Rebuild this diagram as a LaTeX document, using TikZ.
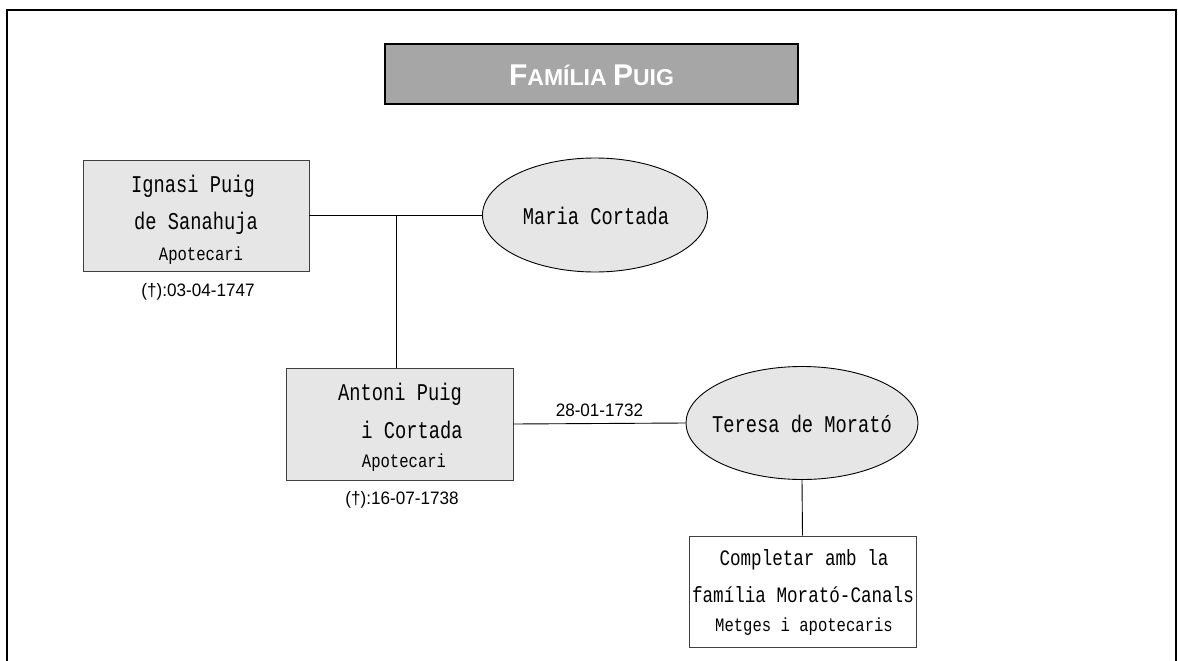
\documentclass[tikz,border=0pt]{standalone}
\usepackage{fontspec}
\usetikzlibrary{shapes.geometric}
\newfontfamily\monof[FakeStretch=0.78]{Liberation Mono}
\newfontfamily\monomid[FakeStretch=0.8]{Liberation Mono}
\newfontfamily\monosmall[FakeStretch=0.82]{Liberation Mono}
\newfontfamily\sansf[FakeStretch=0.95]{Liberation Sans}
\newfontfamily\titlef{Liberation Sans}
\definecolor{titlegray}{HTML}{A6A6A6}
\definecolor{boxgray}{HTML}{E6E6E6}
\definecolor{edgegray}{HTML}{404040}
\tikzset{
  personbox/.style={draw=edgegray, line width=0.9pt, fill=boxgray, rectangle, inner sep=0pt},
  spousebox/.style={draw=black, line width=0.9pt, fill=boxgray, ellipse, inner sep=0pt},
  notebox/.style={draw=edgegray, line width=0.9pt, fill=white, rectangle, inner sep=0pt},
  bigtxt/.style={inner sep=0pt, font=\monof\fontsize{24}{24}\selectfont},
  midtxt/.style={inner sep=0pt, font=\monomid\fontsize{22}{22}\selectfont},
  smalltxt/.style={inner sep=0pt, font=\monosmall\fontsize{19}{19}\selectfont},
  datetxt/.style={inner sep=0pt, font=\sansf\fontsize{18}{18}\selectfont},
  link/.style={draw=black, line width=0.9pt}
}
\begin{document}
\begin{tikzpicture}[x=1pt,y=-1pt]
\useasboundingbox (0,0) rectangle (1178,661);
\fill[white] (0,0) rectangle (1178,661);
% outer frame
\draw[line width=1.5pt, black] (7,661) -- (7,10) -- (1176,10) -- (1176,661);
% title
\node[draw=black, line width=2pt, fill=titlegray, minimum width=413pt, minimum height=60pt, inner sep=0pt] (title) at (591.5,74) {};
\node[inner sep=0pt, text=white, font=\titlef\bfseries] (titletxt) at (591.5,75)
  {\fontsize{30}{30}\selectfont F\fontsize{23}{23}\selectfont AMÍLIA \fontsize{30}{30}\selectfont P\fontsize{23}{23}\selectfont UIG};
% Ignasi
\node[personbox, minimum width=226pt, minimum height=111pt] (ignasi) at (196,216) {};
\node[bigtxt] (ig1) at (193,186) {Ignasi Puig};
\node[bigtxt] (ig2) at (196,223) {de Sanahuja};
\node[smalltxt] (ig3) at (201,256) {Apotecari};
\node[datetxt] (igd) at (198,292) {(†):03-04-1747};
% Maria
\node[spousebox, minimum width=225pt, minimum height=114pt] (maria) at (595,215) {};
\node[bigtxt] (mariatxt) at (596,216) {Maria Cortada};
% Antoni
\node[personbox, minimum width=227pt, minimum height=112pt] (antoni) at (399.5,424) {};
\node[bigtxt] (an1) at (400,394) {Antoni Puig};
\node[bigtxt] (an2) at (412,430) {i Cortada};
\node[smalltxt] (an3) at (404,463) {Apotecari};
\node[datetxt] (and) at (402,500) {(†):16-07-1738};
% Teresa
\node[spousebox, minimum width=232pt, minimum height=113pt] (teresa) at (802,423) {};
\node[bigtxt] (teresatxt) at (802,424) {Teresa de Morató};
% Completar
\node[notebox, minimum width=227pt, minimum height=111pt] (comp) at (802.5,591.5) {};
\node[midtxt] (c1) at (804,560) {Completar amb la};
\node[midtxt] (c2) at (803,595) {família Morató-Canals};
\node[smalltxt] (c3) at (804,627) {Metges i apotecaris};
% connectors
\coordinate (j) at (396,215);
\draw[link] (ignasi.east |- j) -- (maria.west |- j);
\draw[link] (j) -- (j |- antoni.north);
\draw[link] (antoni.east) -- node[above=6pt, datetxt] (wed) {28-01-1732} (teresa.west);
\draw[link] (teresa.south) -- (comp.north);
\end{tikzpicture}
\end{document}
